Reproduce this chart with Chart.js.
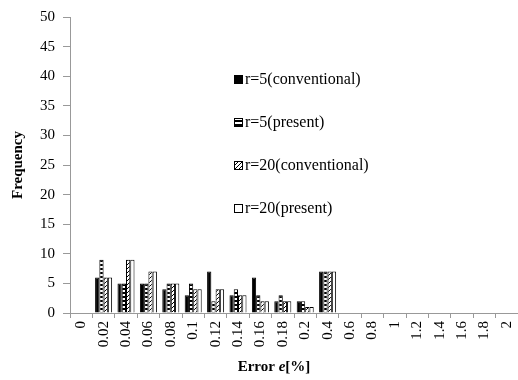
<!DOCTYPE html>
<html>
<head>
<meta charset="utf-8">
<script src="https://cdn.jsdelivr.net/npm/chart.js@4.4.0/dist/chart.umd.min.js"></script>
<style>
body { margin: 0; background: #fff; }
#wrap { position: relative; width: 518px; height: 380px; }
</style>
</head>
<body>
<div id="wrap"><canvas id="histchart" width="518" height="380"></canvas></div>
<script>
// error bins (x categories)
var errorBins = ["0", "0.02", "0.04", "0.06", "0.08", "0.1", "0.12", "0.14", "0.16", "0.18", "0.2",
  "0.4", "0.6", "0.8", "1", "1.2", "1.4", "1.6", "1.8", "2"];

// frequencies (null = empty bin)
var r5Conventional = [null, 6, 5, 5, 4, 3, 7, 3, 6, 2, 2, 7, null, null, null, null, null, null, null, null];
var r5Present = [null, 9, 5, 5, 5, 5, 2, 4, 3, 3, 2, 7, null, null, null, null, null, null, null, null];
var r20Conventional = [null, 6, 9, 7, 5, 4, 4, 3, 2, 2, 1, 7, null, null, null, null, null, null, null, null];
var r20Present = [null, 6, 9, 7, 5, 4, 4, 3, 2, 2, 1, 7, null, null, null, null, null, null, null, null];

var seriesNames = ["r=5(conventional)", "r=5(present)", "r=20(conventional)", "r=20(present)"];
var freqMax = 50, freqStep = 5;

var serif = "'Liberation Serif', 'Times New Roman', serif";

function makePattern(kind) {
  let c = document.createElement("canvas");
  c.width = 4; c.height = 4;
  let g = c.getContext("2d");
  g.fillStyle = "#fff";
  g.fillRect(0, 0, 4, 4);
  g.fillStyle = "#000";
  if (kind == "hstripe") {
    g.fillRect(0, 0, 4, 2);
  } else if (kind == "diag") {
    g.fillRect(0, 3, 1, 1);
    g.fillRect(1, 2, 1, 1);
    g.fillRect(2, 1, 1, 1);
    g.fillRect(3, 0, 1, 1);
  }
  return g.createPattern(c, "repeat");
}

let ctx = document.getElementById("histchart").getContext("2d");
let fills = ["#000", makePattern("hstripe"), makePattern("diag"), "#fff"];

// legend drawn inside the plot, like the original
const innerLegend = {
  id: "innerLegend",
  afterDraw(chart) {
    let c = chart.ctx;
    let ys = [79, 122, 165, 208];
    c.save();
    c.font = "16px " + serif;
    c.textBaseline = "middle";
    chart.data.datasets.forEach((ds, i) => {
      c.fillStyle = ds.backgroundColor;
      c.fillRect(234, ys[i] - 4, 9, 9);
      c.strokeStyle = "#000";
      c.lineWidth = 1;
      c.strokeRect(234.5, ys[i] - 3.5, 8, 8);
      c.fillStyle = "#000";
      c.fillText(ds.label, 245, ys[i] + 1);
    });
    c.restore();
  }
};

// x axis title with italic e
const xTitle = {
  id: "xTitle",
  afterDraw(chart) {
    let c = chart.ctx;
    let parts = [["Error ", "bold 15px " + serif], ["e", "italic bold 15px " + serif], ["[%]", "bold 15px " + serif]];
    c.save();
    c.fillStyle = "#000";
    c.textBaseline = "middle";
    let w = 0;
    parts.forEach(p => { c.font = p[1]; w += c.measureText(p[0]).width; });
    let x = 274 - w / 2;
    parts.forEach(p => { c.font = p[1]; c.fillText(p[0], x, 367); x += c.measureText(p[0]).width; });
    c.restore();
  }
};

let chart = new Chart(ctx, {
  type: "bar",
  data: {
    labels: errorBins,
    datasets: [r5Conventional, r5Present, r20Conventional, r20Present].map((d, i) => ({
      label: seriesNames[i],
      data: d,
      backgroundColor: fills[i],
      borderColor: "#000",
      borderWidth: 1,
      categoryPercentage: 0.76,
      barPercentage: 1.0
    }))
  },
  options: {
    responsive: false,
    animation: false,
    layout: { padding: { top: 13, right: 0, left: 0, bottom: 0 } },
    plugins: {
      legend: { display: false },
      tooltip: { enabled: false }
    },
    scales: {
      x: {
        offset: true,
        grid: { offset: true, drawOnChartArea: false, drawTicks: true, tickLength: 5, color: "#999" },
        border: { color: "#999" },
        ticks: {
          autoSkip: false, maxRotation: 90, minRotation: 90, padding: 3,
          color: "#000", font: { family: serif, size: 15 }
        },
        afterFit(scale) {
          scale.height = 67;
          scale.paddingLeft = 0;
          scale.paddingRight = 0;
        }
      },
      y: {
        min: 0,
        max: freqMax,
        ticks: { stepSize: freqStep, padding: 8, color: "#000", font: { family: serif, size: 15 } },
        grid: { drawOnChartArea: false, drawTicks: true, tickLength: 7, color: "#999" },
        border: { color: "#999" },
        title: {
          display: true, text: "Frequency", color: "#000",
          font: { family: serif, size: 15, weight: "bold" },
          padding: { top: 9, bottom: 0 }
        },
        afterFit(scale) { scale.width = 70; }
      }
    }
  },
  plugins: [innerLegend, xTitle]
});
</script>
</body>
</html>
